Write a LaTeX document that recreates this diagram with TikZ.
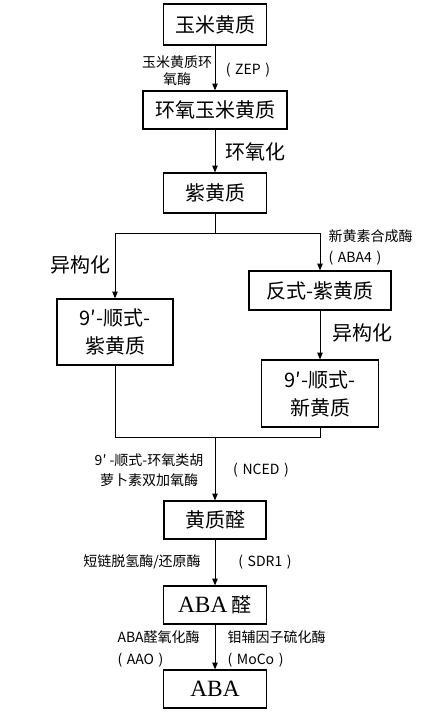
\documentclass[tikz,border=0pt]{standalone}
\usepackage{fontspec}
\setmainfont{Noto Sans CJK SC}
\newfontfamily\abafont{Liberation Serif}
\usetikzlibrary{arrows.meta}
\newcommand\enz[1]{(\hspace{3.5pt}#1\hspace{3.5pt})}

\begin{document}
\begin{tikzpicture}[x=0.75pt, y=-0.75pt, line width=0.75pt,
  box/.style={draw, line width=0.9pt, inner sep=0pt, align=center, font=\fontsize{15}{21}\selectfont},
  lbl/.style={inner sep=0pt, font=\fontsize{10.5}{15}\selectfont},
  arr/.style={-{Triangle[length=5pt, width=4pt]}}]
  \useasboundingbox (0,0) rectangle (442,720);
  \node[box, minimum width=77.25pt, minimum height=30.75pt] (zea) at (215,24.5) {玉米黄质};
  \node[box, minimum width=108pt, minimum height=28.5pt] (epx) at (215,110) {环氧玉米黄质};
  \node[box, minimum width=77.25pt, minimum height=30pt] (vio) at (215,193) {紫黄质};
  \node[box, minimum width=87pt, minimum height=49.5pt] (cvio) at (115,332) {9′-顺式-\\紫黄质};
  \node[box, minimum width=106.5pt, minimum height=29.25pt] (tvio) at (320,290.5) {反式-紫黄质};
  \node[box, minimum width=87.75pt, minimum height=50.25pt] (cneo) at (320,393.5) {9′-顺式-\\新黄质};
  \node[box, minimum width=76.5pt, minimum height=28.5pt] (xan) at (215,520) {黄质醛};
  \node[box, minimum width=77.25pt, minimum height=28.5pt] (ald) at (215,605) {{\abafont\fontsize{17.5}{21}\selectfont ABA} 醛};
  \node[box, minimum width=77.25pt, minimum height=28.5pt] (aba) at (215,689) {\abafont\fontsize{17.5}{21}\selectfont ABA};
  \coordinate (s) at (215,233);
  \coordinate (m) at (215,437);
  \draw[arr] (zea) -- (epx);
  \draw[arr] (epx) -- (vio);
  \draw (vio) -- (s);
  \draw[arr] (s) -| (cvio);
  \draw[arr] (s) -| (tvio);
  \draw[arr] (tvio) -- (cneo);
  \draw (cvio) |- (m);
  \draw (cneo) |- (m);
  \draw[arr] (m) -- (xan);
  \draw[arr] (xan) -- (ald);
  \draw[arr] (ald) -- (aba);
  \node[lbl, align=center] (zepn) at (177,71) {玉米黄质环\\[-2pt]氧酶};
  \node[lbl] (zep) at (248,70) {\enz{ZEP}};
  \node[lbl, font=\fontsize{15}{18}\selectfont] (epox) at (255,152) {环氧化};
  \node[lbl, font=\fontsize{15}{18}\selectfont] (iso1) at (80,265) {异构化};
  \node[lbl, align=left, anchor=west] (aba4) at (328,247.5) {新黄素合成酶\\[0.5pt]\enz{ABA4}};
  \node[lbl, font=\fontsize{15}{18}\selectfont] (iso2) at (362,333) {异构化};
  \node[lbl, align=center] (ncedn) at (149,470) {9′ -顺式-环氧类胡\\萝卜素双加氧酶};
  \node[lbl] (nced) at (261,470) {\enz{NCED}};
  \node[lbl] (sdrn) at (142,562) {短链脱氢酶/还原酶};
  \node[lbl] (sdr) at (265,562) {\enz{SDR1}};
  \node[lbl, align=left, anchor=west] (aao) at (117,649) {ABA醛氧化酶\\[1.5pt]\enz{AAO}};
  \node[lbl, align=left, anchor=west] (moco) at (227,649) {钼辅因子硫化酶\\[1.5pt]\enz{MoCo}};
\end{tikzpicture}
\end{document}
